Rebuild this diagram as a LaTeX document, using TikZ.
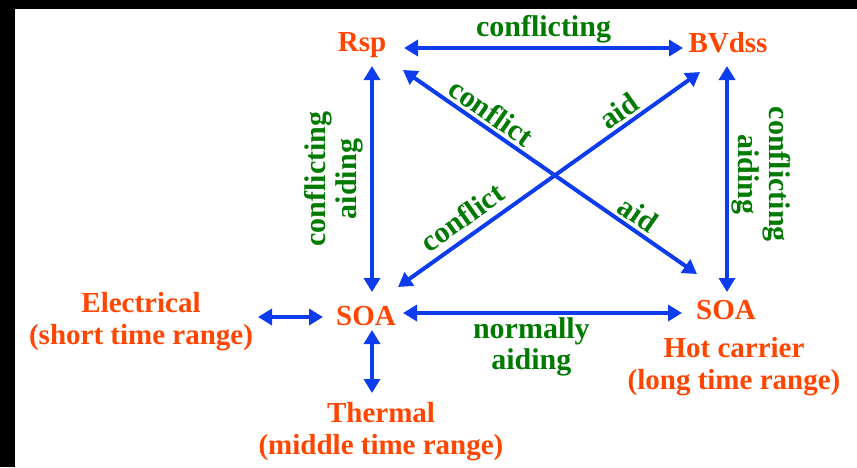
\documentclass[tikz,border=0pt]{standalone}
\usepackage{fontspec}
\setmainfont{Liberation Serif}
\usetikzlibrary{arrows.meta}
\definecolor{redtext}{RGB}{255,69,0}
\definecolor{linkblue}{RGB}{12,60,238}
\definecolor{labelgreen}{RGB}{0,122,0}

\begin{document}
\begin{tikzpicture}[x=1pt, y=-1pt,
  param/.style={text=redtext, font=\fontsize{29}{32}\selectfont\bfseries, align=center, inner sep=0pt},
  link/.style={linkblue, line width=4pt, {Triangle[length=14pt,width=16pt]}-{Triangle[length=14pt,width=16pt]}},
  tag/.style={text=labelgreen, font=\fontsize{30}{31}\selectfont\bfseries, align=center, inner sep=3pt}]
% frame
\useasboundingbox (0,0) rectangle (857,467);
\fill[black] (0,0) rectangle (857,9);
\fill[black] (0,0) rectangle (15,467);

% parameters
\node[param] (rsp) at (362,45) {Rsp};
\node[param] (bvdss) at (728,43) {BVdss};
\node[param] (soaL) at (366,316) {SOA};
\node[param] (soaR) at (726,310) {SOA};
\node[param] (elec) at (141,322) {Electrical\\(short time range)};
\node[param] (therm) at (381,432) {Thermal\\(middle time range)};
\node[param] (hot) at (734,367) {Hot carrier\\(long time range)};

% trade-offs
\draw[link] ([shift={(42,3)}]rsp.center) -- node[tag, above] {conflicting} ([shift={(-45,5)}]bvdss.center);
\draw[link] ([shift={(6,-24)}]soaL.center) -- node[tag, rotate=90, above, inner sep=7pt] {conflicting\\aiding} ([shift={(10,21)}]rsp.center);
\draw[link] ([shift={(-1,23)}]bvdss.center) -- node[tag, rotate=-90, above, pos=0.48, inner sep=3pt] {conflicting\\aiding} ([shift={(1,-18)}]soaR.center);
\draw[link] ([shift={(41,25)}]rsp.center) -- node[tag, sloped, above, pos=0.27] {conflict} node[tag, sloped, above, pos=0.77] {aid} ([shift={(-29,-36)}]soaR.center);
\draw[link] ([shift={(32,-29)}]soaL.center) -- node[tag, sloped, above, pos=0.25, inner sep=7pt] {conflict} node[tag, sloped, above, pos=0.76] {aid} ([shift={(-28,29)}]bvdss.center);
\draw[link] ([shift={(37,-3)}]soaL.center) -- node[tag, below, pos=0.46] {normally\\aiding} ([shift={(-44,3)}]soaR.center);

% time ranges
\draw[link] ([shift={(117,-5)}]elec.center) -- ([shift={(-43,1)}]soaL.center);
\draw[link] ([shift={(6,14)}]soaL.center) -- ([shift={(-9,-39)}]therm.center);
\end{tikzpicture}
\end{document}
